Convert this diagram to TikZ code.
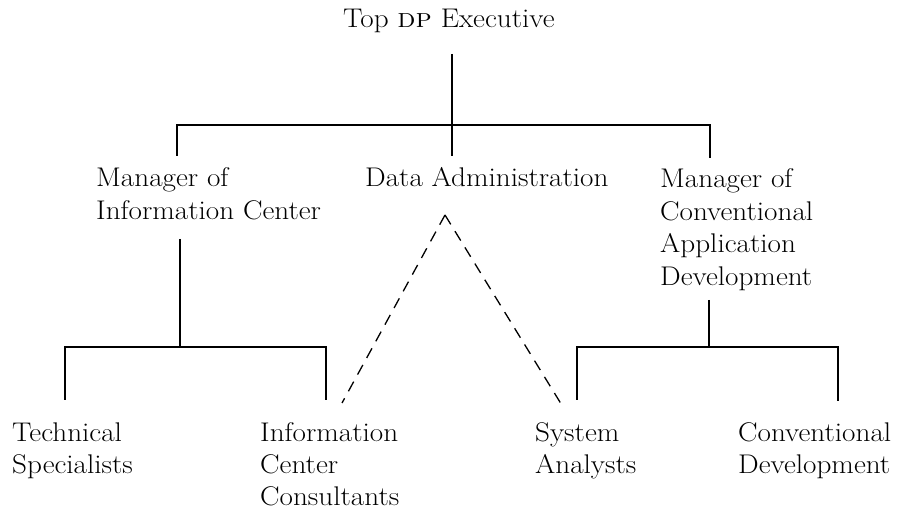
\documentclass[tikz,border=0pt]{standalone}
\usepackage{graphicx}
% labels are set slightly wide, left-aligned, one line per row
\newcommand{\stack}[1]{\scalebox{1.08}[1]{\begin{tabular}[t]{@{}l@{}}#1\end{tabular}}}
\begin{document}
\begin{tikzpicture}[x=1pt,y=-1pt,
  lbl/.style={inner sep=0pt, anchor=base west, font=\fontsize{27}{32.5}\selectfont},
  bar/.style={line width=1.6pt},
  dashlink/.style={line width=1.3pt, dash pattern=on 11pt off 8pt}]
\useasboundingbox (0,0) rectangle (905,510);

% ---- positions (text baselines) ----
\node[lbl] (top) at (343,28) {\stack{Top \textsc{dp} Executive}};
\node[lbl] (mic) at (96,187) {\stack{Manager of\\Information Center}};
\node[lbl] (da)  at (365,187) {\stack{Data Administration}};
\node[lbl] (mca) at (660,188) {\stack{Manager of\\Conventional\\Application\\Development}};
\node[lbl] (ts)  at (12,441)  {\stack{Technical\\Specialists}};
\node[lbl] (icc) at (260,441) {\stack{Information\\Center\\Consultants}};
\node[lbl] (sa)  at (535,441) {\stack{System\\Analysts}};
\node[lbl] (cd)  at (738,441) {\stack{Conventional\\Development}};

% ---- junction points ----
\coordinate (topout) at (452,54);
\coordinate (topbus) at (452,125);
\coordinate (daup)   at (452,156);
\coordinate (busL)   at (177,125);
\coordinate (busR)   at (710,125);
\coordinate (micup)  at (177,156);
\coordinate (mcaup)  at (710,158);

\coordinate (micout) at (180,239);
\coordinate (micbus) at (180,347);
\coordinate (lbL)    at (65,347);
\coordinate (lbR)    at (326,347);
\coordinate (tsup)   at (65,400);
\coordinate (iccup)  at (326,400);

\coordinate (mcaout) at (709,300);
\coordinate (mcabus) at (709,347);
\coordinate (rbL)    at (577,347);
\coordinate (rbR)    at (838,347);
\coordinate (saup)   at (577,400);
\coordinate (cdup)   at (838,401);

\coordinate (daout)  at (445,215);
\coordinate (icclnk) at (342,403);
\coordinate (salnk)  at (563,407);

% ---- solid reporting lines ----
\draw[bar] (topout) -- (daup);
\draw[bar] (micup) -- (busL) -- (busR) -- (mcaup);

\draw[bar] (micout) -- (micbus);
\draw[bar] (tsup) -- (lbL) -- (lbR) -- (iccup);

\draw[bar] (mcaout) -- (mcabus);
\draw[bar] (saup) -- (rbL) -- (rbR) -- (cdup);

% ---- dashed coordination lines ----
\draw[dashlink] (daout) -- (icclnk);
\draw[dashlink] (daout) -- (salnk);
\end{tikzpicture}
\end{document}
